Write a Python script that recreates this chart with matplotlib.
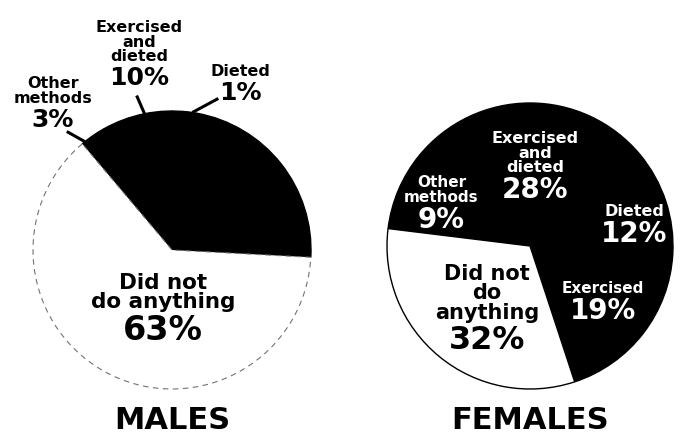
import numpy as np
import matplotlib.pyplot as plt

# slices go counterclockwise from the start angle
categories = ['Exercised', 'Dieted', 'Exercised and dieted', 'Other methods', 'Did not do anything']
male_pct = [23, 1, 10, 3, 63]
female_pct = [19, 12, 28, 9, 32]

male_names = [None, 'Dieted', 'Exercised\nand\ndieted', 'Other\nmethods', 'Did not\ndo anything']
female_names = ['Exercised', 'Dieted', 'Exercised\nand\ndieted', 'Other\nmethods', 'Did not\ndo\nanything']

slice_colors = ['black', 'black', 'black', 'black', 'white']

# label layout: (angle nudge, distance in radii, name size, pct size, leader)
male_layout = [
    None,
    (-13.4, 1.32, 11.5, 18, (0, -8.6)),
    (-1.4, 1.35, 11.5, 18, (0, 1.5)),
    (5.0, 1.34, 11.5, 18, (4, 6.8)),
    (18.4, 0.46, 15.5, 24, None),
]
female_layout = [
    (2.6, 0.62, 11, 20, None),
    (-4.2, 0.75, 11.5, 20, None),
    (-4.2, 0.49, 11.5, 20, None),
    (-1.2, 0.68, 11, 20, None),
    (10.4, 0.62, 15, 23, None),
]


def draw_pie(ax, values, names, layout, center, r, start, title, dashed):
    wedges, _ = ax.pie(values, colors=slice_colors, startangle=start, counterclock=True,
                       center=center, radius=r, frame=True,
                       wedgeprops=dict(edgecolor='black', linewidth=1))
    white = wedges[-1]
    if dashed:
        white.set_edgecolor('0.45')
        white.set_linewidth(0.8)
        white.set_linestyle((0, (5, 4)))
    for w, v, name, lay in zip(wedges, values, names, layout):
        if lay is None:
            continue
        nudge, dist, name_fs, pct_fs, lead = lay
        mid = (w.theta1 + w.theta2) / 2
        # outside labels and labels on the white slice are black
        dark = w.get_facecolor()[0] < 0.5 and dist < 1
        color = 'white' if dark else 'black'
        a = np.deg2rad(mid + nudge)
        x = center[0] + dist * r * np.cos(a)
        y = center[1] + dist * r * np.sin(a)
        ax.text(x, y + 1, name, ha='center', va='bottom', fontsize=name_fs,
                fontweight='bold', color=color, linespacing=0.95)
        ax.text(x, y - 2 - pct_fs * 100 / 72 * 0.73, f'{v}%', ha='center', va='baseline',
                fontsize=pct_fs, fontweight='bold', color=color)
        if lead is not None:
            a0 = np.deg2rad(mid + lead[0])
            a1 = np.deg2rad(mid + lead[1])
            ax.plot([center[0] + r * np.cos(a0), center[0] + 1.14 * r * np.cos(a1)],
                    [center[1] + r * np.sin(a0), center[1] + 1.14 * r * np.sin(a1)],
                    color='black', lw=2.2, solid_capstyle='butt')
    ax.text(center[0], 8, title, ha='center', va='baseline', fontsize=22, fontweight='bold')


fig = plt.figure(figsize=(6.81, 4.37), dpi=100)
ax = fig.add_axes([0, 0, 1, 1])

draw_pie(ax, male_pct, male_names, male_layout, (172, 187), 139, -3, 'MALES', True)
draw_pie(ax, female_pct, female_names, female_layout, (530, 191), 143, -71.8, 'FEMALES', False)

ax.set_xlim(0, 681)
ax.set_ylim(0, 437)
ax.set_aspect('equal')
ax.axis('off')

fig.savefig('out.png', dpi=100, facecolor='white')
